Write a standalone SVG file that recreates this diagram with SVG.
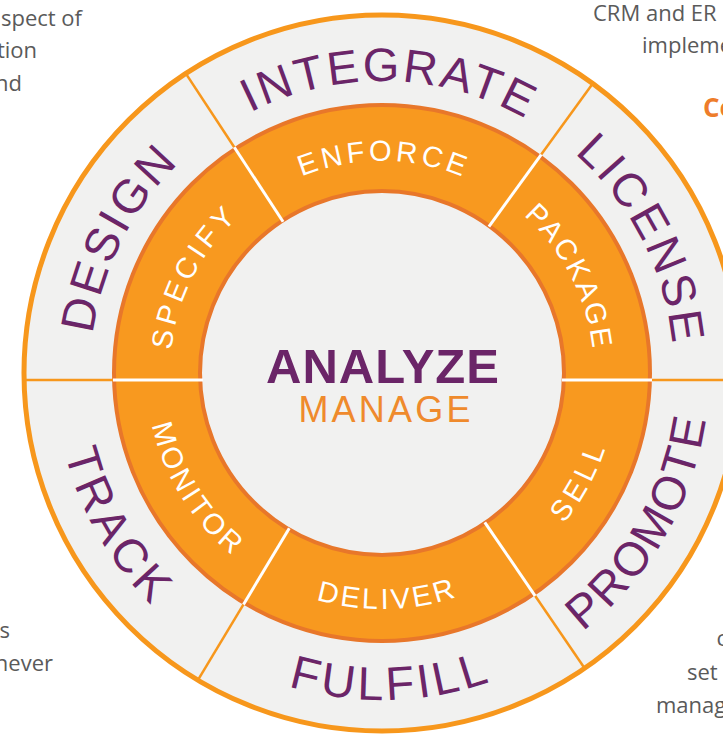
<svg xmlns="http://www.w3.org/2000/svg" width="723" height="735" viewBox="0 0 723 735">
<style>
.side{font-family:"Open Sans","Liberation Sans",sans-serif;font-size:22px;fill:#5a5a5a}
.outer{font-family:"Liberation Sans",Arial,sans-serif;font-size:47px;fill:#6b2568}
.inner{font-family:"Liberation Sans",Arial,sans-serif;font-size:29px;fill:#ffffff}
.odiv{stroke:#f7971c;stroke-width:2.5}
.idiv{stroke:#ffffff;stroke-width:3}
</style>
<defs>
<path id="pINTEGRATE" d="M95.9,314.8 A292,292 0 0 1 670.8,329.8"/>
<path id="pDESIGN" d="M206.3,606.2 A292,292 0 0 1 467.4,93.8"/>
<path id="pLICENSE" d="M296.6,93.8 A292,292 0 0 1 557.7,606.2"/>
<path id="pFULFILL" d="M61.7,438.8 A327,327 0 0 0 705.5,420.8"/>
<path id="pTRACK" d="M171.8,122.5 A327,327 0 0 0 493.8,680.3"/>
<path id="pPROMOTE" d="M270.2,680.3 A327,327 0 0 0 592.2,122.5"/>
<path id="pENFORCE" d="M173.5,334.4 A212,212 0 0 1 591.1,338.0"/>
<path id="pSPECIFY" d="M254.4,542.3 A212,212 0 0 1 444.0,170.3"/>
<path id="pPACKAGE" d="M320.0,170.3 A212,212 0 0 1 509.6,542.3"/>
<path id="pDELIVER" d="M150.7,419.7 A236,236 0 0 0 615.4,408.3"/>
<path id="pMONITOR" d="M224.1,197.6 A236,236 0 0 0 470.4,591.8"/>
<path id="pSELL" d="M306.7,596.7 A236,236 0 0 0 529.2,188.6"/>
</defs>

<g id="side-texts">
<text class="side" x="82" y="26" text-anchor="end">spect of</text>
<text class="side" x="37" y="58" text-anchor="end">tion</text>
<text class="side" x="22" y="91" text-anchor="end">nd</text>
<text class="side" x="10" y="638" text-anchor="end">s</text>
<text class="side" x="53" y="671" text-anchor="end">never</text>
<text class="side" x="593" y="20.5">CRM and ER</text>
<text class="side" x="642" y="53">impleme</text>
<text x="703" y="116.5" style="font-family:'Open Sans','Liberation Sans',sans-serif;font-size:26px;font-weight:bold;fill:#ee7d2b">Co</text>
<text class="side" x="716.5" y="646">c</text>
<text class="side" x="687" y="680">set</text>
<text class="side" x="656" y="713">manag</text>
</g>

<g id="wheel">
<circle cx="382" cy="373" r="358" fill="#f1f1f0" stroke="#f7971c" stroke-width="5"/>
<circle cx="382" cy="373" r="268" fill="#f8991f" stroke="#e8772a" stroke-width="4"/>
<circle cx="382" cy="373" r="182" fill="#f1f1f0" stroke="#e8772a" stroke-width="4"/>
</g>

<g id="connectors">
<line class="odiv" x1="24" y1="380" x2="113" y2="380"/>
<line class="odiv" x1="652" y1="380" x2="723" y2="380"/>
<line class="odiv" x1="185.4" y1="72.9" x2="234.3" y2="147.3"/>
<line class="odiv" x1="593.5" y1="82.6" x2="541.2" y2="154.6"/>
<line class="odiv" x1="585.3" y1="669.2" x2="535.1" y2="595.8"/>
<line class="odiv" x1="197.6" y1="680.7" x2="243.5" y2="604.4"/>
<line class="idiv" x1="113" y1="380" x2="203" y2="380"/>
<line class="idiv" x1="562" y1="380" x2="652" y2="380"/>
<line class="idiv" x1="234.3" y1="147.3" x2="283.1" y2="221.7"/>
<line class="idiv" x1="541.2" y1="154.6" x2="488.9" y2="226.6"/>
<line class="idiv" x1="535.1" y1="595.8" x2="484.8" y2="522.3"/>
<line class="idiv" x1="243.5" y1="604.4" x2="289.3" y2="528.2"/>
</g>

<g id="integrate"><text class="outer" letter-spacing="2.6"><textPath href="#pINTEGRATE" startOffset="50%" text-anchor="middle">INTEGRATE</textPath></text></g>
<g id="design"><text class="outer" letter-spacing="2.8"><textPath href="#pDESIGN" startOffset="50%" text-anchor="middle">DESIGN</textPath></text></g>
<g id="license"><text class="outer" letter-spacing="3"><textPath href="#pLICENSE" startOffset="50%" text-anchor="middle">LICENSE</textPath></text></g>
<g id="promote"><text class="outer" letter-spacing="2.2"><textPath href="#pPROMOTE" startOffset="50%" text-anchor="middle">PROMOTE</textPath></text></g>
<g id="fulfill"><text class="outer" letter-spacing="3.7"><textPath href="#pFULFILL" startOffset="50%" text-anchor="middle">FULFILL</textPath></text></g>
<g id="track"><text class="outer" letter-spacing="4.5"><textPath href="#pTRACK" startOffset="50%" text-anchor="middle">TRACK</textPath></text></g>

<g id="enforce"><text class="inner" letter-spacing="3.8"><textPath href="#pENFORCE" startOffset="50%" text-anchor="middle">ENFORCE</textPath></text></g>
<g id="specify"><text class="inner" letter-spacing="4.3"><textPath href="#pSPECIFY" startOffset="50%" text-anchor="middle">SPECIFY</textPath></text></g>
<g id="package"><text class="inner" letter-spacing="2.5"><textPath href="#pPACKAGE" startOffset="50%" text-anchor="middle">PACKAGE</textPath></text></g>
<g id="monitor"><text class="inner" letter-spacing="3.2"><textPath href="#pMONITOR" startOffset="50%" text-anchor="middle">MONITOR</textPath></text></g>
<g id="deliver"><text class="inner" letter-spacing="3"><textPath href="#pDELIVER" startOffset="50%" text-anchor="middle">DELIVER</textPath></text></g>
<g id="sell"><text class="inner" letter-spacing="5"><textPath href="#pSELL" startOffset="50%" text-anchor="middle">SELL</textPath></text></g>

<g id="center">
<text x="383" y="383" text-anchor="middle" style="font-family:'Liberation Sans',Arial,sans-serif;font-size:49px;font-weight:bold;fill:#6b2568" letter-spacing="1">ANALYZE</text>
<text x="386" y="422" text-anchor="middle" style="font-family:'Liberation Sans',Arial,sans-serif;font-size:36px;fill:#ef8a2c" letter-spacing="3.2">MANAGE</text>
</g>
</svg>
